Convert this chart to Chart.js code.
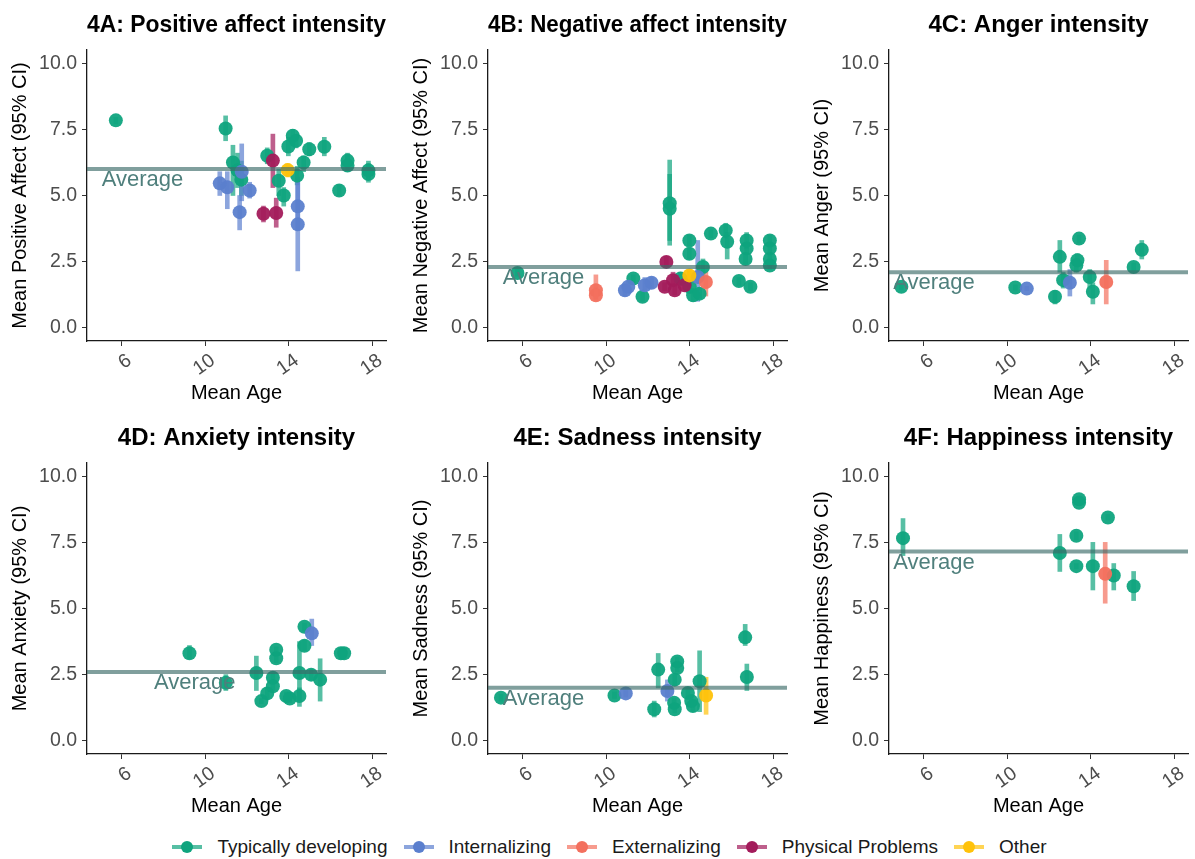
<!DOCTYPE html>
<html>
<head>
<meta charset="utf-8">
<script src="https://cdn.jsdelivr.net/npm/chart.js@4"></script>
<style>
  html, body { margin: 0; padding: 0; background: #fff; overflow: hidden; }
  body { width: 1195px; height: 859px; position: relative; font-family: "Liberation Sans", Arial, Helvetica, sans-serif; }
  .panel { position: absolute; width: 393px; height: 412px; }
  #legend { position: absolute; top: 834px; left: 24px; width: 1171px; height: 26px; display: flex; justify-content: center; align-items: center; font-size: 19px; color: #1a1a1a; }
  .item { display: flex; align-items: center; margin: 0 8px; }
  .sym { position: relative; width: 30px; height: 14px; margin-right: 15px; }
  .sym .ln { position: absolute; left: 0; right: 0; top: 5px; height: 4px; opacity: 0.7; }
  .sym .dot { position: absolute; left: 9px; top: 1px; width: 12px; height: 12px; border-radius: 50%; }
</style>
</head>
<body>
<div class="panel" style="left:0;top:0"><canvas id="cA"></canvas></div>
<div class="panel" style="left:401px;top:0"><canvas id="cB"></canvas></div>
<div class="panel" style="left:802px;top:0"><canvas id="cC"></canvas></div>
<div class="panel" style="left:0;top:413px"><canvas id="cD"></canvas></div>
<div class="panel" style="left:401px;top:413px"><canvas id="cE"></canvas></div>
<div class="panel" style="left:802px;top:413px"><canvas id="cF"></canvas></div>
<div id="legend"></div>
<script>
// groups: key, legend label, colour
const groupKeys = ['T', 'I', 'E', 'P', 'O'];
const groupLabels = ['Typically developing', 'Internalizing', 'Externalizing', 'Physical Problems', 'Other'];
const groupColors = ['#0FA47E', '#5B7FCE', '#F3705E', '#A31B5B', '#FFC20A'];

const xTicks = [6, 10, 14, 18];
const yTicks = [0, 2.5, 5, 7.5, 10];
const xMin = 4.35, xMax = 18.65;

const titles = ['4A: Positive affect intensity', '4B: Negative affect intensity', '4C: Anger intensity',
                '4D: Anxiety intensity', '4E: Sadness intensity', '4F: Happiness intensity'];
const yTitles = ['Mean Positive Affect (95% CI)', 'Mean Negative Affect (95% CI)', 'Mean Anger (95% CI)',
                 'Mean Anxiety (95% CI)', 'Mean Sadness (95% CI)', 'Mean Happiness (95% CI)'];
const averages = [6.0, 2.3, 2.1, 2.6, 2.0, 7.15];
const avgLabelX = [7.0, 7.0, 6.5, 9.5, 7.0, 6.5];

// [mean age, mean, CI low, CI high, group]
const panelA = [
  [5.73, 7.84, 7.7, 7.95, 'T'], [10.98, 7.53, 7.07, 8.01, 'T'], [11.33, 6.25, 5.0, 6.9, 'T'],
  [11.55, 5.95, 5.3, 6.6, 'T'], [11.73, 5.6, 5.0, 6.3, 'T'], [12.97, 6.5, 6.2, 6.8, 'T'],
  [13.52, 5.56, 5.0, 6.0, 'T'], [13.76, 5.0, 4.6, 5.3, 'T'], [13.98, 6.85, 6.5, 7.2, 'T'],
  [14.19, 7.26, 6.9, 7.5, 'T'], [14.35, 7.07, 6.8, 7.3, 'T'], [14.4, 5.75, 5.4, 6.1, 'T'],
  [14.71, 6.25, 5.9, 6.5, 'T'], [14.98, 6.75, 6.5, 7.0, 'T'], [15.7, 6.84, 6.5, 7.2, 'T'],
  [16.41, 5.19, 5.0, 5.4, 'T'], [16.81, 6.32, 5.9, 6.6, 'T'], [16.81, 6.13, 5.9, 6.5, 'T'],
  [17.81, 5.81, 5.5, 6.2, 'T'], [17.81, 5.95, 5.6, 6.3, 'T'],
  [10.7, 5.46, 5.0, 5.9, 'I'], [11.06, 5.31, 4.5, 5.9, 'I'], [11.65, 4.37, 3.7, 5.0, 'I'],
  [11.75, 5.9, 4.8, 6.95, 'I'], [12.13, 5.19, 4.9, 5.5, 'I'], [14.43, 4.59, 3.7, 5.7, 'I'],
  [14.43, 3.91, 2.15, 5.6, 'I'],
  [12.79, 4.31, 4.0, 4.6, 'P'], [13.24, 6.32, 5.3, 7.32, 'P'], [13.4, 4.34, 3.8, 4.9, 'P'],
  [13.95, 5.96, 5.7, 6.2, 'O']
];
const panelB = [
  [5.76, 2.07, 1.95, 2.2, 'T'], [11.3, 1.86, 1.7, 2.0, 'T'], [11.74, 1.17, 1.0, 1.35, 'T'],
  [13.04, 4.71, 3.12, 6.34, 'T'], [13.04, 4.5, 3.3, 5.8, 'T'], [13.56, 1.86, 1.6, 2.1, 'T'],
  [13.98, 3.3, 3.1, 3.5, 'T'], [13.98, 2.8, 2.6, 3.0, 'T'], [14.0, 1.55, 1.3, 1.8, 'T'],
  [14.16, 1.23, 1.0, 1.45, 'T'], [14.47, 1.29, 1.1, 1.5, 'T'], [14.63, 2.3, 2.0, 2.6, 'T'],
  [15.01, 3.56, 3.4, 3.7, 'T'], [15.72, 3.68, 3.4, 3.95, 'T'], [15.79, 3.25, 2.6, 3.6, 'T'],
  [16.35, 1.77, 1.6, 1.9, 'T'], [16.72, 3.3, 3.0, 3.6, 'T'], [16.72, 3.0, 2.8, 3.2, 'T'],
  [16.67, 2.6, 2.4, 2.8, 'T'], [16.9, 1.55, 1.4, 1.7, 'T'], [17.83, 3.3, 3.1, 3.5, 'T'],
  [17.83, 3.0, 2.8, 3.2, 'T'], [17.83, 2.6, 2.4, 2.8, 'T'], [17.83, 2.35, 2.2, 2.5, 'T'],
  [10.9, 1.42, 1.2, 1.6, 'I'], [11.06, 1.55, 1.35, 1.75, 'I'], [11.85, 1.61, 1.4, 1.9, 'I'],
  [12.17, 1.7, 1.5, 1.9, 'I'], [14.38, 1.92, 1.0, 3.3, 'I'],
  [9.51, 1.42, 1.1, 2.0, 'E'], [9.51, 1.23, 1.05, 1.5, 'E'], [14.77, 1.73, 1.2, 2.1, 'E'],
  [12.88, 2.49, 2.3, 2.7, 'P'], [12.8, 1.55, 1.4, 1.7, 'P'], [13.2, 1.8, 1.6, 2.1, 'P'],
  [13.28, 1.42, 1.25, 1.6, 'P'], [13.75, 1.61, 1.45, 1.8, 'P'],
  [13.98, 1.98, 1.8, 2.15, 'O']
];
const panelC = [
  [4.94, 1.55, 1.45, 1.65, 'T'], [10.39, 1.52, 1.42, 1.62, 'T'], [12.52, 2.68, 2.1, 3.3, 'T'],
  [12.68, 1.8, 1.5, 2.1, 'T'], [12.29, 1.17, 0.9, 1.4, 'T'], [13.44, 3.37, 3.2, 3.5, 'T'],
  [13.36, 2.55, 2.3, 2.8, 'T'], [13.31, 2.36, 2.1, 2.6, 'T'], [13.95, 1.92, 1.5, 2.2, 'T'],
  [14.1, 1.36, 0.9, 1.7, 'T'], [16.05, 2.3, 2.15, 2.45, 'T'], [16.44, 2.95, 2.6, 3.3, 'T'],
  [10.94, 1.48, 1.4, 1.56, 'I'], [13.0, 1.7, 1.2, 2.2, 'I'],
  [14.74, 1.73, 0.9, 2.55, 'E']
];
const panelD = [
  [9.25, 3.31, 3.1, 3.6, 'T'], [10.99, 2.19, 1.9, 2.5, 'T'], [12.45, 2.56, 1.9, 3.2, 'T'],
  [12.69, 1.5, 1.4, 1.6, 'T'], [12.97, 1.79, 1.6, 2.0, 'T'], [13.24, 2.38, 2.2, 2.55, 'T'],
  [13.24, 2.06, 1.9, 2.2, 'T'], [13.4, 3.44, 3.3, 3.55, 'T'], [13.4, 3.12, 2.95, 3.3, 'T'],
  [13.88, 1.69, 1.55, 1.85, 'T'], [14.05, 1.6, 1.45, 1.75, 'T'], [14.51, 1.69, 1.3, 2.0, 'T'],
  [14.51, 2.56, 1.5, 3.75, 'T'], [14.75, 4.31, 4.15, 4.45, 'T'], [14.75, 3.59, 3.4, 3.8, 'T'],
  [15.07, 2.5, 2.3, 2.7, 'T'], [15.5, 2.31, 1.5, 3.1, 'T'], [16.49, 3.31, 3.1, 3.5, 'T'],
  [16.65, 3.31, 3.15, 3.5, 'T'],
  [15.1, 4.06, 3.6, 4.6, 'I']
];
const panelE = [
  [4.97, 1.63, 1.5, 1.75, 'T'], [10.4, 1.71, 1.6, 1.85, 'T'], [12.49, 2.69, 2.0, 3.3, 'T'],
  [12.3, 1.19, 0.9, 1.5, 'T'], [13.4, 3.0, 2.85, 3.15, 'T'], [13.4, 2.75, 2.6, 2.9, 'T'],
  [13.28, 2.31, 2.1, 2.5, 'T'], [13.25, 1.44, 1.3, 1.6, 'T'], [13.28, 1.19, 1.05, 1.35, 'T'],
  [13.91, 1.81, 1.6, 2.0, 'T'], [14.07, 1.5, 1.3, 1.7, 'T'], [14.15, 1.31, 1.1, 1.5, 'T'],
  [14.47, 2.25, 1.1, 3.4, 'T'], [16.65, 3.91, 3.6, 4.4, 'T'], [16.73, 2.41, 1.9, 2.9, 'T'],
  [10.94, 1.79, 1.65, 1.9, 'I'], [12.93, 1.88, 1.5, 2.3, 'I'],
  [14.78, 1.71, 1.0, 2.4, 'O']
];
const panelF = [
  [5.02, 7.66, 7.0, 8.4, 'T'], [12.52, 7.1, 6.4, 7.8, 'T'], [13.31, 7.75, 7.6, 7.9, 'T'],
  [13.44, 9.13, 9.0, 9.25, 'T'], [13.44, 9.0, 8.9, 9.1, 'T'], [13.31, 6.6, 6.5, 6.7, 'T'],
  [14.1, 6.6, 5.7, 7.5, 'T'], [14.82, 8.44, 8.35, 8.55, 'T'], [15.1, 6.25, 5.7, 6.7, 'T'],
  [16.05, 5.84, 5.3, 6.4, 'T'],
  [14.69, 6.31, 5.2, 7.5, 'E']
];

const panels = [panelA, panelB, panelC, panelD, panelE, panelF];
const canvasIds = ['cA', 'cB', 'cC', 'cD', 'cE', 'cF'];

Chart.defaults.font.family = '"Liberation Sans", Arial, Helvetica, sans-serif';
Chart.defaults.animation = false;

function hexAlpha(hex, a) {
  const n = parseInt(hex.slice(1), 16);
  return `rgba(${n >> 16}, ${(n >> 8) & 255}, ${n & 255}, ${a})`;
}

// "Average" label under the reference line
const avgLabel = {
  id: 'avgLabel',
  afterDatasetsDraw(chart, args, opts) {
    const { ctx, scales: { x, y } } = chart;
    ctx.save();
    ctx.font = '22px "Liberation Sans", Arial, sans-serif';
    ctx.fillStyle = '#4f7f7c';
    ctx.textAlign = 'center';
    ctx.textBaseline = 'middle';
    ctx.fillText('Average', x.getPixelForValue(opts.x), y.getPixelForValue(opts.y) + 11);
    ctx.restore();
  }
};

// bar datasets would otherwise put the x grid ticks between values
const axisGrid = { drawOnChartArea: false, drawTicks: true, tickLength: 5, color: '#333', lineWidth: 1, offset: false };
const axisBorder = { display: true, color: '#1a1a1a', width: 1.3 };

function makePanel(i) {
  const rows = panels[i];
  const datasets = [{
    type: 'line',
    data: [{ x: xMin, y: averages[i] }, { x: xMax, y: averages[i] }],
    borderColor: 'rgba(60, 108, 104, 0.65)',
    borderWidth: 4,
    pointRadius: 0
  }];
  // points: first dataset is drawn on top, so push groups in reverse
  for (let g = groupKeys.length - 1; g >= 0; g--) {
    const r = rows.filter(d => d[4] === groupKeys[g]);
    if (!r.length) continue;
    datasets.push({
      type: 'scatter',
      label: groupLabels[g],
      data: r.map(d => ({ x: d[0], y: d[1] })),
      backgroundColor: hexAlpha(groupColors[g], 0.95),
      borderWidth: 0,
      pointRadius: 7
    });
  }
  // confidence intervals as thin floating bars
  for (let g = groupKeys.length - 1; g >= 0; g--) {
    const r = rows.filter(d => d[4] === groupKeys[g]);
    if (!r.length) continue;
    datasets.push({
      type: 'bar',
      label: groupLabels[g] + ' CI',
      data: r.map(d => ({ x: d[0], y: [d[2], d[3]] })),
      backgroundColor: hexAlpha(groupColors[g], 0.7),
      barThickness: 4,
      grouped: false
    });
  }

  new Chart(document.getElementById(canvasIds[i]), {
    type: 'scatter',
    data: { datasets },
    options: {
      responsive: true,
      maintainAspectRatio: false,
      layout: { padding: { left: 0, right: 4, top: 0, bottom: 0 } },
      plugins: {
        legend: { display: false },
        tooltip: { enabled: false },
        title: {
          display: true, text: titles[i], color: '#000', fullSize: false,
          font: { size: 24, weight: 'bold' }, padding: { top: 10.6, bottom: 10.6 }
        },
        avgLabel: { x: avgLabelX[i], y: averages[i] }
      },
      scales: {
        x: {
          type: 'linear', min: xMin, max: xMax, offset: false,
          afterBuildTicks: s => { s.ticks = xTicks.map(v => ({ value: v })); },
          afterFit: s => { s.height = 71; },
          ticks: { minRotation: 35, maxRotation: 35, autoSkip: false, color: '#4d4d4d', font: { size: 19.5 }, padding: 3, labelOffset: 8 },
          grid: axisGrid,
          border: axisBorder,
          title: { display: true, text: 'Mean Age', color: '#000', font: { size: 20 }, padding: { top: 0, bottom: 7 } }
        },
        y: {
          min: -0.5, max: 10.5,
          afterBuildTicks: s => { s.ticks = yTicks.map(v => ({ value: v })); },
          afterFit: s => { s.width = 87; },
          ticks: { color: '#4d4d4d', font: { size: 19.5 }, padding: 5, callback: v => v.toFixed(1) },
          grid: axisGrid,
          border: axisBorder,
          title: { display: true, text: yTitles[i], color: '#000', font: { size: 20 }, padding: { top: 8, bottom: 0 } }
        }
      }
    },
    plugins: [avgLabel]
  });
}

for (let i = 0; i < panels.length; i++) makePanel(i);

// legend
const legend = document.getElementById('legend');
groupLabels.forEach((label, g) => {
  const item = document.createElement('div');
  item.className = 'item';
  item.innerHTML = `<span class="sym"><span class="ln" style="background:${groupColors[g]}"></span>` +
    `<span class="dot" style="background:${groupColors[g]}"></span></span><span>${label}</span>`;
  legend.appendChild(item);
});
</script>
</body>
</html>
